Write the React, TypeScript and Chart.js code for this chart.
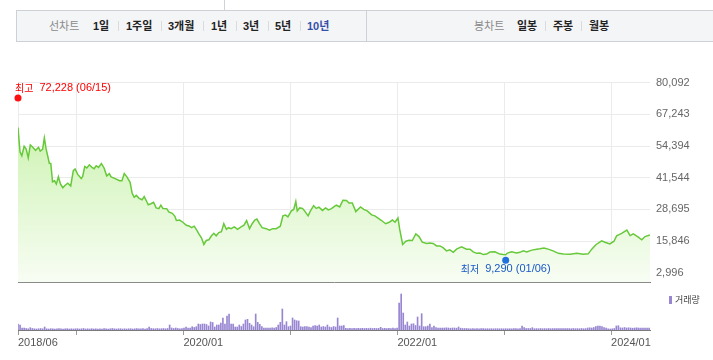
import React, { useEffect, useRef } from "react";
import { Chart, registerables } from "chart.js";

Chart.register(...registerables);

// ---------- data ----------
const priceDates = [
  "2018-06-15","2018-06-22","2018-06-28","2018-07-06","2018-07-13","2018-07-20","2018-07-27","2018-08-03","2018-08-14","2018-08-24",
  "2018-08-30","2018-09-07","2018-09-13","2018-09-19","2018-09-30","2018-10-05","2018-10-11","2018-10-18","2018-10-24","2018-10-31",
  "2018-11-07","2018-11-15","2018-11-24","2018-12-02","2018-12-12","2018-12-21","2018-12-27","2019-01-05","2019-01-17","2019-01-22",
  "2019-01-29","2019-02-05","2019-02-14","2019-02-23","2019-03-02","2019-03-09","2019-03-17","2019-03-27","2019-04-05","2019-04-14",
  "2019-04-23","2019-04-29","2019-05-13","2019-05-28","2019-06-05","2019-06-13","2019-06-22","2019-07-03","2019-07-10","2019-07-17",
  "2019-07-24","2019-08-03","2019-08-13","2019-08-20","2019-08-27","2019-09-03","2019-09-12","2019-09-21","2019-09-30","2019-10-09",
  "2019-10-16","2019-10-23","2019-11-05","2019-11-12","2019-11-24","2019-12-03","2019-12-08","2019-12-19","2019-12-30","2020-01-11",
  "2020-01-20","2020-01-29","2020-02-07","2020-02-14","2020-02-23","2020-03-03","2020-03-11","2020-03-19","2020-03-28","2020-04-06",
  "2020-04-14","2020-04-22","2020-05-01","2020-05-10","2020-05-18","2020-05-27","2020-06-03","2020-06-12","2020-06-23","2020-07-04",
  "2020-07-16","2020-07-26","2020-08-04","2020-08-14","2020-08-23","2020-09-01","2020-09-08","2020-09-17","2020-09-26","2020-10-10",
  "2020-10-21","2020-11-01","2020-11-13","2020-11-27","2020-12-06","2020-12-15","2020-12-23","2021-01-04","2021-01-12","2021-01-19",
  "2021-01-24","2021-02-01","2021-02-11","2021-02-18","2021-03-02","2021-03-10","2021-03-21","2021-03-30","2021-04-08","2021-04-20",
  "2021-05-01","2021-05-10","2021-05-21","2021-06-01","2021-06-07","2021-06-18","2021-06-29","2021-07-11","2021-07-20","2021-07-31",
  "2021-08-12","2021-08-28","2021-09-08","2021-09-20","2021-10-05","2021-10-16","2021-10-27","2021-11-08","2021-11-22","2021-12-04",
  "2021-12-15","2021-12-24","2022-01-03","2022-01-09","2022-01-19","2022-01-30","2022-02-10","2022-02-21","2022-03-05","2022-03-16",
  "2022-03-27","2022-04-11","2022-04-22","2022-05-03","2022-05-15","2022-05-26","2022-06-06","2022-06-18","2022-06-29","2022-07-11",
  "2022-07-22","2022-08-08","2022-08-25","2022-09-06","2022-09-17","2022-09-29","2022-10-10","2022-10-22","2022-11-02","2022-11-13",
  "2022-11-30","2022-12-17","2022-12-29","2023-01-06","2023-01-12","2023-01-26","2023-02-12","2023-02-24","2023-03-07","2023-03-19",
  "2023-04-05","2023-04-22","2023-05-03","2023-05-17","2023-05-31","2023-06-17","2023-07-05","2023-07-22","2023-08-14","2023-09-06",
  "2023-09-28","2023-10-15","2023-10-27","2023-11-11","2023-11-30","2023-12-11","2023-12-28","2024-01-11","2024-01-20","2024-02-06",
  "2024-02-24","2024-03-06","2024-03-17","2024-04-03","2024-04-15","2024-04-26","2024-05-13",
];

const priceValues = [
  61900,51900,50400,54300,53200,49600,54800,54100,52600,53900,
  52300,53000,57700,53200,47400,47300,39900,40300,39000,41900,
  39000,37500,38600,39300,38200,44400,45100,42900,41200,42100,
  46100,45500,46800,45700,45200,46400,45700,47300,45500,42300,
  43200,41900,41200,40300,40300,43200,41900,39700,35200,33600,
  34400,33200,32600,33900,32300,30600,31000,31600,29300,29000,
  30400,29100,29000,27700,27100,25900,24200,24400,23500,22300,
  22000,21300,21900,20600,18800,17100,14500,16100,16400,18000,
  19000,18000,19300,19700,22900,20600,21300,20900,21600,20600,
  21600,22300,24200,20900,22900,24400,24800,22900,21300,20900,
  20300,20900,20900,21900,26100,26400,25700,28100,28700,31900,
  28100,29300,29100,28100,26100,28100,30200,29100,29600,28300,
  29300,28500,29000,30000,30400,29700,32400,32300,31300,31300,
  27800,29700,28700,28100,26500,26100,25200,24200,22900,23500,
  24400,23500,25200,20600,14500,15800,16200,16100,18800,17700,
  15400,14900,15100,14900,13900,13900,13200,11900,12300,11300,
  12600,13500,12600,12600,11500,10900,11000,10400,10600,11400,
  11500,10600,10400,10300,11000,11500,11000,11300,11900,11500,
  12200,12600,12800,13100,12600,11900,10900,10600,10500,10900,
  10500,10700,12600,14500,16000,15400,14700,15800,18000,19000,
  20300,18100,18800,17500,16400,17700,18300,
];

const priceTicks = [2996, 15846, 28695, 41544, 54394, 67243, 80092];
const priceAxisMin = -878;
const priceAxisMax = 80092;

const axisTickDates = ["2018-06-15", "2019-01-01", "2020-01-01", "2021-01-01", "2022-01-01", "2023-01-01", "2024-01-01"];
const axisTickLabels = ["2018/06", "", "2020/01", "", "2022/01", "", "2024/01"];

// weekly trading volume (10k shares), one bar per week from volumeStartDate
const volumeStartDate = "2018-06-15";
const volumeValues = [
  60,50,20,20,15,12,23,15,12,10,
  12,15,12,30,12,10,13,12,10,12,
  15,12,10,12,13,10,12,10,12,13,
  10,12,15,10,12,10,13,10,12,10,
  12,10,13,12,10,12,15,12,10,12,
  13,10,12,10,12,13,10,12,15,12,
  12,13,10,15,30,15,13,12,15,12,
  13,15,12,15,50,20,15,20,15,12,
  15,18,30,20,18,33,25,33,60,55,
  60,60,55,40,80,75,30,50,50,70,
  120,60,140,160,60,60,30,30,50,35,
  60,100,107,67,50,33,160,77,57,33,
  20,20,18,20,22,20,25,50,77,210,
  50,83,33,40,120,100,93,90,33,30,
  33,35,30,25,40,45,40,50,30,35,
  30,50,30,25,35,30,120,40,40,45,
  17,15,17,15,17,15,17,15,17,15,
  17,15,18,15,17,15,17,27,15,17,
  15,17,15,18,15,20,270,360,170,50,
  80,40,60,63,45,130,40,163,33,33,
  40,60,23,40,23,20,20,18,20,22,
  20,18,20,20,18,30,18,15,15,15,
  13,12,13,12,13,12,13,13,12,13,
  12,13,12,13,13,12,13,12,13,12,
  13,12,13,13,12,13,40,23,15,15,
  15,23,13,14,13,15,13,14,13,15,
  13,14,13,15,13,14,13,15,13,14,
  13,15,13,14,13,15,13,14,20,22,
  20,25,35,40,40,35,25,20,12,10,
  12,15,40,43,22,20,25,20,22,20,
  18,20,22,20,18,20,20,18,20,
];
const volumeAxisMax = 400;

const highMark = { date: "2018-06-15", value: 72228, word: "최고", dateLabel: "06/15" };
const lowMark = { date: "2023-01-06", value: 9290, word: "최저", dateLabel: "01/06" };

const lineTabs = ["1일", "1주일", "3개월", "1년", "3년", "5년", "10년"];
const lineTabLefts = [93, 126, 168, 211, 243, 275, 307];
const candleTabs = ["일봉", "주봉", "월봉"];
const candleTabLefts = [517, 553, 589];

// ---------- helpers ----------
const NFONT = "'Liberation Sans', 'Noto Sans CJK KR', sans-serif";
const KFONT = "'Noto Sans CJK KR', sans-serif";

const toDay = (s: string) => {
  const [y, m, d] = s.split("-").map(Number);
  return Date.UTC(y, m - 1, d) / 86400000;
};
const fmt = (v: number) => v.toLocaleString("en-US");

const xMin = toDay(priceDates[0]);
const xMax = toDay(priceDates[priceDates.length - 1]);

const markerPlugin = {
  id: "hiLoMarkers",
  afterDatasetsDraw(chart: any) {
    const { ctx, scales } = chart;
    const xs = scales.x;
    const ys = scales.y;
    const draw = (m: any, color: string, textColor: string, mode: "left" | "center") => {
      const x = xs.getPixelForValue(toDay(m.date));
      const y = ys.getPixelForValue(m.value) + (mode === "left" ? -4 : 3);
      ctx.save();
      ctx.fillStyle = color;
      ctx.beginPath();
      ctx.arc(x, y, 3.5, 0, Math.PI * 2);
      ctx.fill();
      const num = `${fmt(m.value)} (${m.dateLabel})`;
      ctx.font = `10px ${KFONT}`;
      const w1 = ctx.measureText(m.word).width;
      ctx.font = `11px ${NFONT}`;
      const w2 = ctx.measureText(num).width;
      const gap = 6;
      const total = w1 + gap + w2;
      const tx = mode === "left" ? x - 3 : x - total / 2;
      const ty = mode === "left" ? y - 10 : y + 9;
      ctx.fillStyle = textColor;
      ctx.textBaseline = "middle";
      ctx.textAlign = "left";
      ctx.font = `10px ${KFONT}`;
      ctx.fillText(m.word, tx, ty);
      ctx.font = `11px ${NFONT}`;
      ctx.fillText(num, tx + w1 + gap, ty);
      ctx.restore();
    };
    draw(highMark, "#ff1010", "#ff0000", "left");
    draw(lowMark, "#2270e0", "#1a58c8", "center");
  },
};

export default function App() {
  const priceRef = useRef<HTMLCanvasElement | null>(null);
  const volRef = useRef<HTMLCanvasElement | null>(null);

  useEffect(() => {
    const gridColor = "#ebebeb";
    const priceChart = new Chart(priceRef.current as HTMLCanvasElement, {
      type: "line",
      data: {
        datasets: [
          {
            data: priceDates.map((d, i) => ({ x: toDay(d), y: priceValues[i] })),
            borderColor: "#66c93a",
            borderWidth: 1.5,
            pointRadius: 0,
            tension: 0,
            fill: "start",
            backgroundColor: (c: any) => {
              const { chart } = c;
              const area = chart.chartArea;
              if (!area) return "rgba(0,0,0,0)";
              const g = chart.ctx.createLinearGradient(0, area.top, 0, area.bottom);
              g.addColorStop(0, "#c0ee9c");
              g.addColorStop(0.45, "#daf6c6");
              g.addColorStop(1, "#f8fdf4");
              return g;
            },
          } as any,
        ],
      },
      options: {
        animation: false,
        responsive: false,
        maintainAspectRatio: false,
        events: [],
        layout: { padding: { left: 18, top: 9, right: 0, bottom: 7 } },
        plugins: { legend: { display: false }, tooltip: { enabled: false } },
        scales: {
          x: {
            type: "linear",
            min: xMin,
            max: xMax,
            afterBuildTicks: (s: any) => {
              s.ticks = axisTickDates.map((d) => ({ value: toDay(d) }));
            },
            ticks: { display: false },
            grid: { color: gridColor, drawTicks: false },
            border: { display: true, color: "#7a7a7a", width: 1 },
          },
          y: {
            position: "right",
            min: priceAxisMin,
            max: priceAxisMax,
            afterBuildTicks: (s: any) => {
              s.ticks = priceTicks.map((v) => ({ value: v }));
            },
            afterFit: (s: any) => {
              s.width = 63;
            },
            ticks: {
              color: "#666",
              padding: 6,
              font: { family: NFONT, size: 11 },
              callback: (v: any) => fmt(Number(v)),
            },
            grid: { color: gridColor, drawTicks: false },
            border: { display: false },
          },
        },
      } as any,
      plugins: [markerPlugin],
    });

    const vStart = toDay(volumeStartDate);
    const volChart = new Chart(volRef.current as HTMLCanvasElement, {
      type: "bar",
      data: {
        datasets: [
          {
            data: volumeValues.map((v, i) => ({ x: vStart + 7 * i, y: v })),
            backgroundColor: "#9886d2",
            borderWidth: 0,
            barThickness: 1,
          } as any,
        ],
      },
      options: {
        animation: false,
        responsive: false,
        maintainAspectRatio: false,
        events: [],
        layout: { padding: { left: 18, top: 4, right: 63, bottom: 0 } },
        plugins: { legend: { display: false }, tooltip: { enabled: false } },
        scales: {
          x: {
            type: "linear",
            min: xMin,
            max: xMax,
            offset: false,
            afterBuildTicks: (s: any) => {
              s.ticks = axisTickDates.map((d) => ({ value: toDay(d) }));
            },
            afterFit: (s: any) => {
              s.height = 30;
            },
            ticks: {
              autoSkip: false,
              maxRotation: 0,
              minRotation: 0,
              align: "start",
              color: "#555",
              padding: 1,
              font: { family: NFONT, size: 11 },
              callback: (_v: any, i: number) => axisTickLabels[i],
            },
            grid: { drawOnChartArea: false, drawTicks: true, tickLength: 5, color: "#9a9a9a", offset: false },
            border: { display: true, color: "#7a7a7a", width: 1 },
          },
          y: { display: false, min: 0, max: volumeAxisMax },
        },
      } as any,
    });

    return () => {
      priceChart.destroy();
      volChart.destroy();
    };
  }, []);

  const sep = (left: number, key: string) => (
    <div key={key} style={{ position: "absolute", left, top: 21, width: 1, height: 10, background: "#d9dbdf" }} />
  );

  return (
    <div
      style={{
        position: "absolute",
        left: 0,
        top: 0,
        width: 713,
        height: 360,
        background: "#fff",
        overflow: "hidden",
        fontFamily: NFONT,
      }}
    >
      <div style={{ position: "absolute", left: 224, top: 0, width: 1, height: 10, background: "#d0d2d6" }} />
      <div
        style={{
          position: "absolute",
          left: 16,
          top: 10,
          width: 720,
          height: 32,
          boxSizing: "border-box",
          background: "#f4f5f7",
          border: "1px solid #cdd0d5",
        }}
      />
      <div style={{ position: "absolute", left: 366, top: 10, width: 1, height: 32, background: "#cdd0d5" }} />
      <span style={{ position: "absolute", left: 49, top: 18, lineHeight: "16px", fontSize: 11, color: "#8a8a8a" }}>선차트</span>
      {lineTabs.map((t, i) => (
        <span
          key={t}
          style={{
            position: "absolute",
            left: lineTabLefts[i],
            top: 18,
            lineHeight: "16px",
            fontSize: 11,
            fontWeight: 700,
            color: i === lineTabs.length - 1 ? "#3550a8" : "#222",
          }}
        >
          {t}
        </span>
      ))}
      {[118, 161, 203, 236, 268, 300].map((l, i) => sep(l, "s" + i))}
      <span style={{ position: "absolute", left: 474, top: 18, lineHeight: "16px", fontSize: 11, color: "#8a8a8a" }}>봉차트</span>
      {candleTabs.map((t, i) => (
        <span
          key={t}
          style={{
            position: "absolute",
            left: candleTabLefts[i],
            top: 18,
            lineHeight: "16px",
            fontSize: 11,
            fontWeight: 700,
            color: "#222",
          }}
        >
          {t}
        </span>
      ))}
      {[545, 581].map((l, i) => sep(l, "c" + i))}

      <canvas
        ref={priceRef}
        width={713}
        height={225}
        style={{ position: "absolute", left: 0, top: 70, width: 713, height: 225, display: "block" }}
      />
      <canvas
        ref={volRef}
        width={713}
        height={74}
        style={{ position: "absolute", left: 0, top: 286, width: 713, height: 74, display: "block" }}
      />
      <div style={{ position: "absolute", left: 669, top: 296, width: 3, height: 8, background: "#9886d2" }} />
      <span
        style={{
          position: "absolute",
          left: 675,
          top: 293,
          lineHeight: "14px",
          fontSize: 9,
          color: "#444",
          fontFamily: KFONT,
        }}
      >
        거래량
      </span>
    </div>
  );
}
